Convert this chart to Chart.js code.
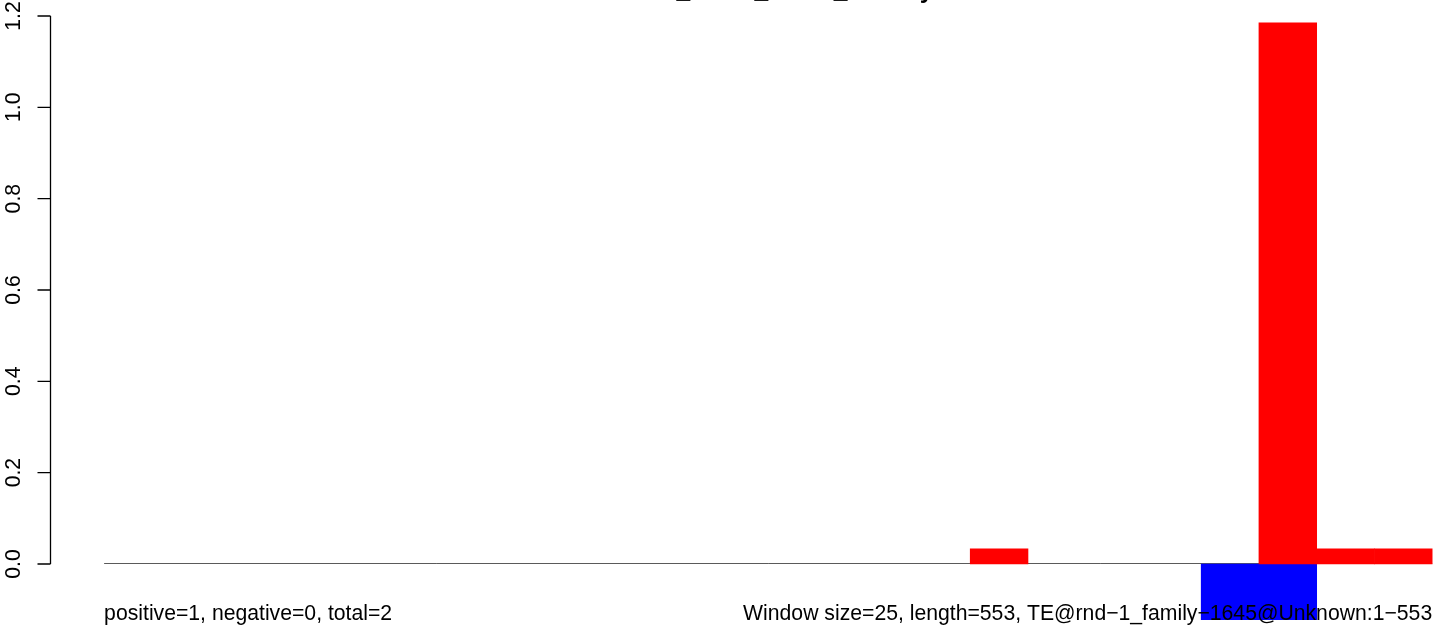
<!DOCTYPE html>
<html>
<head>
<meta charset="utf-8">
<script src="https://cdn.jsdelivr.net/npm/chart.js@4/dist/chart.umd.min.js"></script>
<style>
	html, body { margin: 0; padding: 0; background: #fff; }
	#wrap { width: 1441px; height: 627px; position: relative; }
</style>
</head>
<body>
<div id="wrap"><canvas id="barras"></canvas></div>
<script>
// window starts along the TE (window size 25, length 553)
const windowStart = [1, 26, 51, 76, 101, 126, 151, 176, 201, 226, 251, 276,
	301, 326, 351, 376, 401, 426, 451, 476, 501, 526, 551];
// sense (red) and antisense (blue) values per window
const positiveVals = [0, 0, 0, 0, 0, 0, 0, 0, 0, 0, 0, 0, 0, 0, 0, 0.033,
	0, 0, 0, 0, 1.185, 0.033, 0.033];
const negativeVals = [0, 0, 0, 0, 0, 0, 0, 0, 0, 0, 0, 0, 0, 0, 0, 0,
	0, 0, 0, -0.122, -0.122, 0, 0];
const yTicks = [0, 0.2, 0.4, 0.6, 0.8, 1.0, 1.2];
const yTickLabels = ['0.0', '0.2', '0.4', '0.6', '0.8', '1.0', '1.2'];

const titleText = 'siRNA_mean_reads_density';
const leftNote = 'positive=1, negative=0, total=2';
const rightNote = 'Window size=25, length=553, TE@rnd\u22121_family\u22121645@Unknown:1\u2212553';

const FONT = '"Liberation Sans", Arial, Helvetica, sans-serif';

(() => {

	// empty windows are left out so nothing is painted on the zero line
	const toPoints = (vals) => vals.map((v, i) => ({ x: i + 0.5, y: v === 0 ? null : v }));

	// R style axis, zero line, title and margin texts
	const rStyle = {
		id: 'rStyle',
		beforeDatasetsDraw(chart) {
			const ctx = chart.ctx;
			const xs = chart.scales.x, ys = chart.scales.y;
			const y0 = Math.round(ys.getPixelForValue(0)) - 0.5;
			ctx.save();
			ctx.strokeStyle = '#5a5a5a';
			ctx.lineWidth = 1;
			ctx.beginPath();
			ctx.moveTo(xs.getPixelForValue(0), y0);
			ctx.lineTo(xs.getPixelForValue(windowStart.length), y0);
			ctx.stroke();
			ctx.restore();
		},
		afterDraw(chart) {
			const ctx = chart.ctx;
			const xs = chart.scales.x, ys = chart.scales.y;
			const ax = chart.chartArea.left - 0.5;
			ctx.save();
			ctx.strokeStyle = '#000';
			ctx.fillStyle = '#000';
			ctx.lineWidth = 1.3;
			ctx.beginPath();
			ctx.moveTo(ax, ys.getPixelForValue(yTicks[0]));
			ctx.lineTo(ax, ys.getPixelForValue(yTicks[yTicks.length - 1]));
			yTicks.forEach((t) => {
				const py = ys.getPixelForValue(t);
				ctx.moveTo(ax, py);
				ctx.lineTo(ax - 13, py);
			});
			ctx.stroke();

			ctx.font = '21.2px ' + FONT;
			ctx.textAlign = 'center';
			ctx.textBaseline = 'alphabetic';
			yTicks.forEach((t, i) => {
				ctx.save();
				ctx.translate(20, ys.getPixelForValue(t));
				ctx.rotate(-Math.PI / 2);
				ctx.fillText(yTickLabels[i], 0, 0);
				ctx.restore();
			});

			ctx.textAlign = 'left';
			ctx.fillText(leftNote, xs.getPixelForValue(0), 620);
			ctx.textAlign = 'right';
			ctx.fillText(rightNote, xs.getPixelForValue(windowStart.length), 620);

			// title sits mostly above the page, as in the original
			ctx.font = 'bold 24.6px ' + FONT;
			ctx.textAlign = 'center';
			ctx.fillText(titleText, xs.getPixelForValue(windowStart.length / 2), -2);
			ctx.restore();
		}
	};

	const canvas = document.getElementById('barras');
	new Chart(canvas, {
		type: 'bar',
		data: {
			labels: windowStart,
			datasets: [{
				data: toPoints(positiveVals),
				backgroundColor: '#ff0000',
				borderWidth: 0,
				grouped: false,
				barPercentage: 1,
				categoryPercentage: 1
			}, {
				data: toPoints(negativeVals),
				backgroundColor: '#0000ff',
				borderWidth: 0,
				grouped: false,
				barPercentage: 1,
				categoryPercentage: 1
			}]
		},
		options: {
			responsive: true,
			maintainAspectRatio: false,
			animation: false,
			layout: { padding: { left: 51, right: 0, top: 0, bottom: 0 } },
			scales: {
				x: { type: 'linear', min: -0.92, max: 23.153, display: false, offset: false },
				y: { min: -0.138, max: 1.235, display: false }
			},
			plugins: {
				legend: { display: false },
				tooltip: { enabled: false },
				title: { display: false }
			}
		},
		plugins: [rStyle]
	});

})();
</script>
</body>
</html>
